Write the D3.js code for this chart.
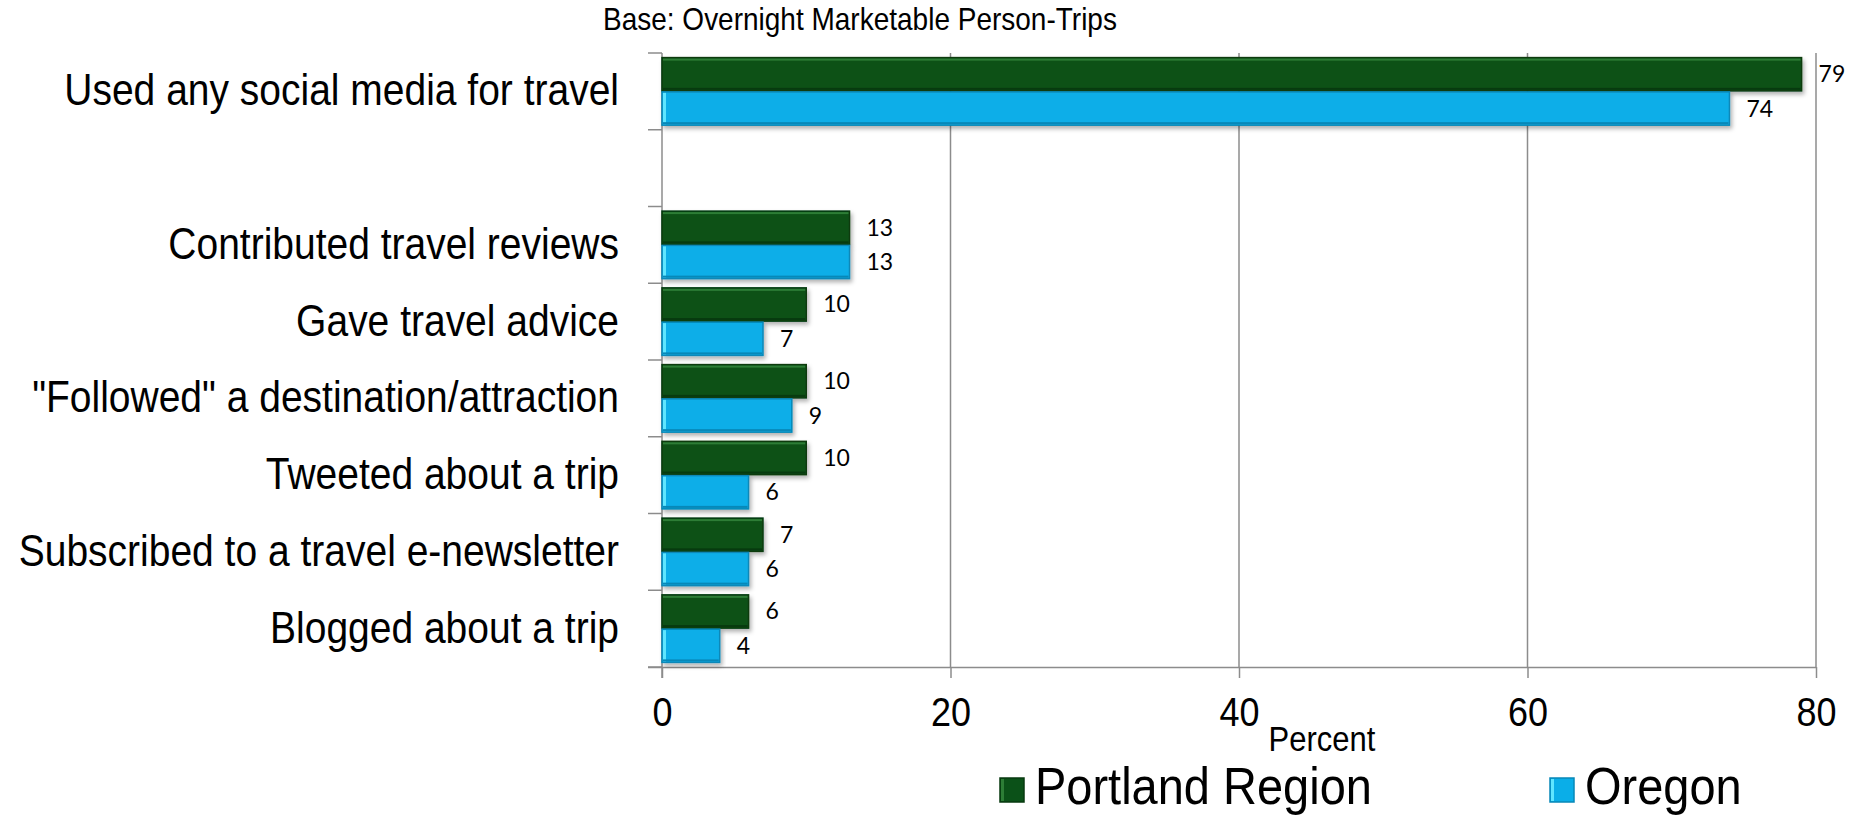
<!DOCTYPE html>
<html>
<head>
<meta charset="utf-8">
<script src="https://cdn.jsdelivr.net/npm/d3@7"></script>
<style>
  html, body { margin: 0; padding: 0; background: #ffffff; }
  svg { display: block; }
</style>
</head>
<body>
<svg id="chart" width="1860" height="816"></svg>
<script>
// Social media use for travel, by region (percent of overnight marketable person-trips)
const categories = [
  "Used any social media for travel",
  "",
  "Contributed travel reviews",
  "Gave travel advice",
  "\"Followed\" a destination/attraction",
  "Tweeted about a trip",
  "Subscribed to a travel e-newsletter",
  "Blogged about a trip"
];
const portland = [79, null, 13, 10, 10, 10, 7, 6];
const oregon   = [74, null, 13, 7, 9, 6, 6, 4];
const seriesNames = ["Portland Region", "Oregon"];
const xTicks = [0, 20, 40, 60, 80];
const titleText = "Base: Overnight Marketable Person-Trips";
const axisTitle = "Percent";

const plot = { left: 662, right: 1816, top: 53, bottom: 667 };
const colors = {
  fill:   ["#0b5118", "#0aaee8"],
  edge:   ["#073a0f", "#0788b8"],
  light:  ["#2d7d36", "#5fe6ff"]
};
const gridColor = "#8c8c8c";
const sans = "'Liberation Sans', Arial, sans-serif";
const labelFont = "Lato, 'Open Sans', sans-serif";
const tall = 1.12;   // slightly condensed look of the chart text

const svg = d3.select("#chart");

// place a text at (x, y) baseline, stretched vertically
function placeTall(sel, fx, fy) {
  return sel.attr("x", 0).attr("y", 0)
    .attr("transform", (d, i) => `translate(${fx(d, i)},${fy(d, i)}) scale(1,${tall})`);
}

// soft drop shadow under the bars
const defs = svg.append("defs");
const f = defs.append("filter").attr("id", "shadow")
  .attr("x", "-5%").attr("y", "-20%").attr("width", "115%").attr("height", "160%");
f.append("feDropShadow").attr("dx", 2).attr("dy", 3).attr("stdDeviation", 2)
  .attr("flood-color", "#000").attr("flood-opacity", 0.3);

const x = d3.scaleLinear().domain([0, 80]).range([plot.left, plot.right]);
const y = d3.scaleBand().domain(d3.range(categories.length))
  .range([plot.top, plot.bottom]).paddingInner(0.12).paddingOuter(0.06);
const y1 = d3.scaleBand().domain([0, 1]).range([0, y.bandwidth()]).paddingInner(0.03);

// title
svg.append("text").datum(titleText)
  .call(placeTall, () => 603, () => 30)
  .attr("font-family", sans).attr("font-size", 28).attr("fill", "#000")
  .text(d => d);

// vertical gridlines
svg.append("g").selectAll("line").data(xTicks.filter(d => d > 0)).join("line")
  .attr("x1", d => x(d)).attr("x2", d => x(d))
  .attr("y1", plot.top).attr("y2", plot.bottom)
  .attr("stroke", gridColor).attr("stroke-width", 1.5);

// bottom axis
const xAxis = svg.append("g").attr("transform", `translate(0,${plot.bottom})`)
  .call(d3.axisBottom(x).tickValues(xTicks).tickSize(11).tickSizeOuter(0));
xAxis.select(".domain").attr("stroke", gridColor).attr("stroke-width", 1.5)
  .attr("d", `M${plot.left - 14},0.5H${plot.right}`);
xAxis.selectAll(".tick line").attr("stroke", gridColor).attr("stroke-width", 1.5);
xAxis.selectAll(".tick text")
  .attr("dy", null).attr("y", 0)
  .attr("transform", `translate(0,59) scale(1,${tall})`)
  .attr("font-family", sans).attr("font-size", 36).attr("fill", "#000");

// left axis with ticks at the category boundaries
const edges = d3.range(categories.length + 1)
  .map(i => plot.top + i * y.step());
const yAxis = svg.append("g");
yAxis.append("line").attr("x1", plot.left).attr("x2", plot.left)
  .attr("y1", plot.top).attr("y2", plot.bottom + 11)
  .attr("stroke", gridColor).attr("stroke-width", 1.5);
yAxis.selectAll("line.tk").data(edges).join("line").attr("class", "tk")
  .attr("x1", plot.left - 14).attr("x2", plot.left)
  .attr("y1", d => d).attr("y2", d => d)
  .attr("stroke", gridColor).attr("stroke-width", 1.5);

// category labels
svg.append("g").selectAll("text").data(categories).join("text")
  .call(placeTall, () => 619, (d, i) => y(i) + y.bandwidth() / 2 + 14)
  .attr("text-anchor", "end")
  .attr("font-family", sans).attr("font-size", 39).attr("fill", "#000")
  .text(d => d);

// bars
const rows = categories.map((c, i) => ({ i, vals: [portland[i], oregon[i]] }))
  .filter(r => r.vals[0] != null);
const barData = rows.flatMap(r => r.vals.map((v, s) => ({ i: r.i, s, v })));

const bars = svg.append("g").selectAll("g.bar").data(barData).join("g").attr("class", "bar")
  .attr("transform", d => `translate(${x(0)},${y(d.i) + y1(d.s)})`);
bars.append("rect")
  .attr("width", d => x(d.v) - x(0)).attr("height", y1.bandwidth())
  .attr("fill", d => colors.fill[d.s])
  .attr("stroke", d => colors.edge[d.s]).attr("stroke-width", 1.5)
  .attr("filter", "url(#shadow)");
// bevel highlights: top edge for green, left edge for blue
bars.append("rect")
  .attr("x", 1).attr("y", 1)
  .attr("width", d => d.s === 0 ? Math.max(0, x(d.v) - x(0) - 2) : 3)
  .attr("height", d => d.s === 0 ? 2 : y1.bandwidth() - 2)
  .attr("fill", d => colors.light[d.s]);
bars.append("rect")
  .attr("x", 1).attr("y", d => y1.bandwidth() - 3)
  .attr("width", d => Math.max(0, x(d.v) - x(0) - 2)).attr("height", 2)
  .attr("fill", d => colors.edge[d.s]);

// value labels
svg.append("g").selectAll("text").data(barData).join("text")
  .attr("x", d => x(d.v) + 17)
  .attr("y", d => y(d.i) + y1(d.s) + y1.bandwidth() / 2 + 8)
  .attr("font-family", labelFont).attr("font-size", 23).attr("fill", "#000")
  .text(d => d.v);

// axis title
svg.append("text").datum(axisTitle)
  .call(placeTall, () => 1322, () => 751)
  .attr("text-anchor", "middle")
  .attr("font-family", sans).attr("font-size", 31).attr("fill", "#000")
  .text(d => d);

// legend
const legendX = [1000, 1550];
const legend = svg.append("g").selectAll("g").data(seriesNames).join("g")
  .attr("transform", (d, i) => `translate(${legendX[i]},778)`);
legend.append("rect").attr("width", 24).attr("height", 24)
  .attr("fill", (d, i) => colors.fill[i])
  .attr("stroke", (d, i) => colors.edge[i]).attr("stroke-width", 1.5);
legend.append("rect").attr("x", 1).attr("y", 1).attr("width", 3).attr("height", 22)
  .attr("fill", (d, i) => colors.light[i]);
legend.append("text")
  .call(placeTall, () => 35, () => 26)
  .attr("font-family", sans).attr("font-size", 47).attr("fill", "#000")
  .text(d => d);
</script>
</body>
</html>
